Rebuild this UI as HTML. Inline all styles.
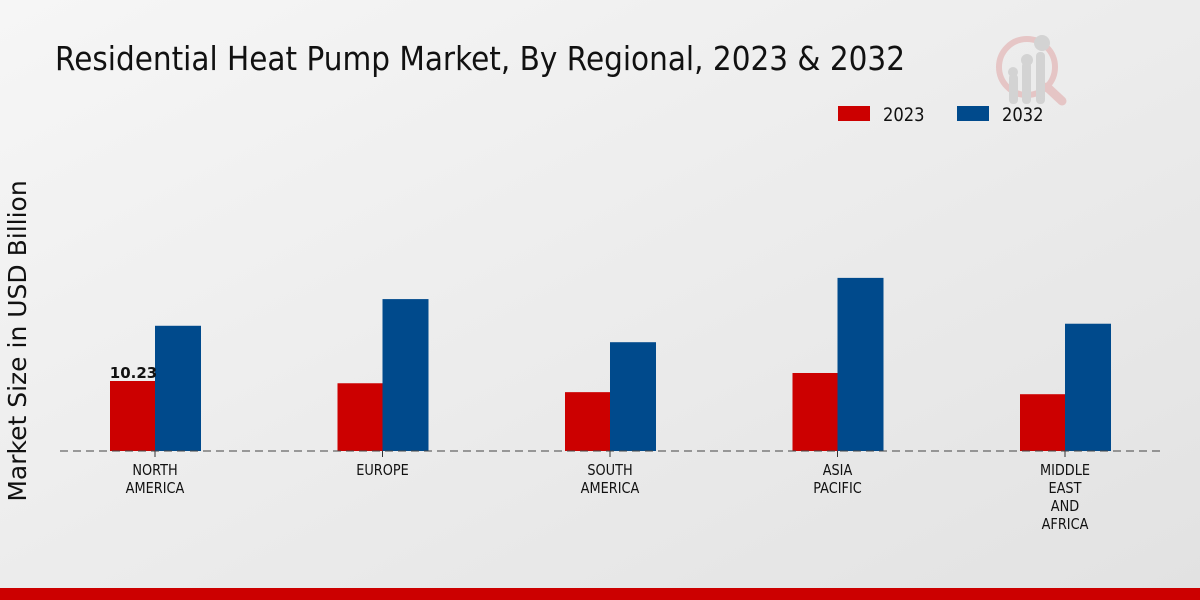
<!DOCTYPE html>
<html><head><meta charset="utf-8"><style>
body{margin:0;width:1200px;height:600px;overflow:hidden;font-family:"DejaVu Sans","Liberation Sans",sans-serif}
</style></head><body>
<svg width="1200" height="600" style="display:block">
<defs><linearGradient id="bg" x1="0" y1="0" x2="1" y2="1"><stop offset="0" stop-color="#f6f6f6"/><stop offset="1" stop-color="#e2e2e2"/></linearGradient></defs>
<rect width="1200" height="600" fill="url(#bg)"/>
<text x="55" y="70" font-size="33" fill="#111" textLength="850" lengthAdjust="spacingAndGlyphs">Residential Heat Pump Market, By Regional, 2023 &amp; 2032</text>
<g opacity="0.5">
<circle cx="1027" cy="67" r="28" fill="none" stroke="#e0a0a0" stroke-width="6"/>
<line x1="1047" y1="87" x2="1062" y2="101" stroke="#e0a0a0" stroke-width="9" stroke-linecap="round"/>
<rect x="1009" y="74" width="9" height="30" rx="4" fill="#bbb"/><rect x="1022" y="62" width="9" height="42" rx="4" fill="#bbb"/><rect x="1036" y="52" width="9" height="52" rx="4" fill="#bbb"/>
<circle cx="1013" cy="72" r="5" fill="#bbb"/><circle cx="1027" cy="60" r="6" fill="#bbb"/><circle cx="1042" cy="43" r="8" fill="#bbb"/>
</g>
<g>
<rect x="838" y="106" width="32" height="15" fill="#cc0000"/>
<text x="883" y="121" font-size="19" fill="#111" transform="translate(883 0) scale(0.86 1) translate(-883 0)">2023</text>
<rect x="957" y="106" width="32" height="15" fill="#004a8c"/>
<text x="1002" y="121" font-size="19" fill="#111" transform="translate(1002 0) scale(0.86 1) translate(-1002 0)">2032</text>
</g>
<text transform="translate(26 341) rotate(-90)" text-anchor="middle" font-size="25" fill="#111">Market Size in USD Billion</text>
<g id="plot"></g>
<rect x="0" y="588" width="1200" height="12" fill="#cc0000"/>
</svg>
<script>
const categories=[["NORTH","AMERICA"],["EUROPE"],["SOUTH","AMERICA"],["ASIA","PACIFIC"],["MIDDLE","EAST","AND","AFRICA"]];
const values2023=[10.23,9.9,8.6,11.4,8.3];
const values2032=[18.3,22.2,15.9,25.3,18.6];
const labels2023=["10.23",null,null,null,null];
const NS="http://www.w3.org/2000/svg";
const g=document.getElementById('plot');
const base=451,scale=70/10.23,x0=155,step=227.5,bw=45;
const yS=v=>base-v*scale;
function mk(t,a){const e=document.createElementNS(NS,t);for(const k in a)e.setAttribute(k,a[k]);g.appendChild(e);return e;}
categories.forEach((c,i)=>{
 const cx=x0+i*step;
 const r=mk('rect',{x:cx-bw,y:yS(values2023[i]),width:bw,height:base-yS(values2023[i]),fill:'#cc0000'});
 
 
 const b=mk('rect',{x:cx,y:yS(values2032[i]),width:bw+1,height:base-yS(values2032[i]),fill:'#004a8c'});
 
 
 if(labels2023[i]){const t=mk('text',{x:cx-bw/2+1,y:yS(values2023[i])-3,'text-anchor':'middle','font-size':'15','font-weight':'bold',fill:'#111'});t.textContent=labels2023[i];
 
 }
 const tk=mk('line',{x1:cx,x2:cx,y1:base,y2:base+6,stroke:'#333'});
 
 
 c.forEach((ln,j)=>{const t=mk('text',{x:cx,y:base+24+j*18,'text-anchor':'middle','font-size':'15',fill:'#111',transform:`translate(${cx} 0) scale(0.86 1) translate(${-cx} 0)`});t.textContent=ln;
 
 });
});
const ax=mk('line',{x1:60,x2:1160,y1:base,y2:base,stroke:'#444','stroke-dasharray':'8,5'});


</script>
</body></html>
